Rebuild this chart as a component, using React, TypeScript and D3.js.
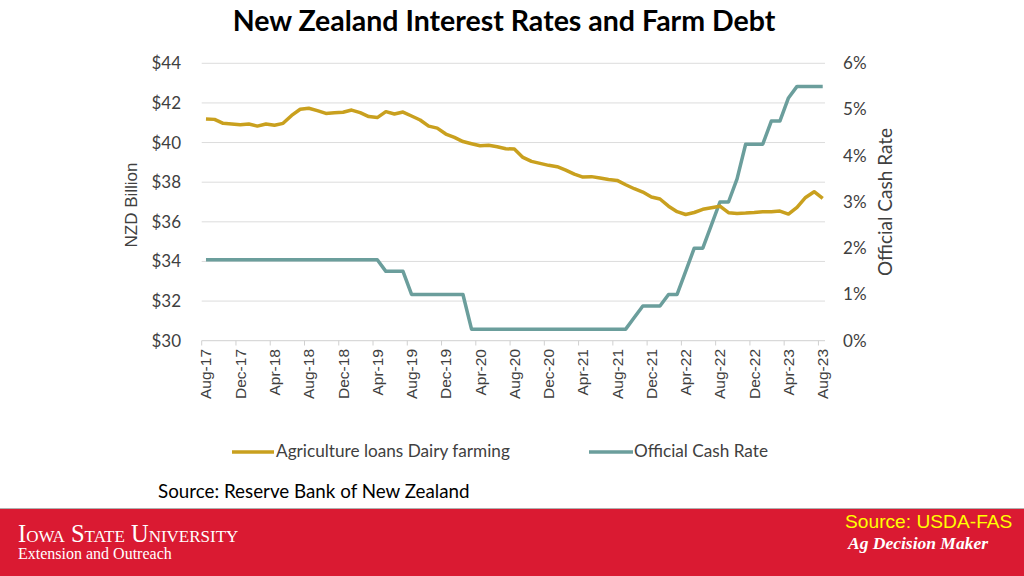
import React from "react";
import * as d3 from "d3";

const MONTHS = ["Jan","Feb","Mar","Apr","May","Jun","Jul","Aug","Sep","Oct","Nov","Dec"];
// Aug-17 .. Aug-23 monthly
const categories: string[] = [];
for (let i = 0; i < 73; i++) {
  const m = (7 + i) % 12;
  const y = 17 + Math.floor((7 + i) / 12);
  categories.push(`${MONTHS[m]}-${y}`);
}

const dairyLoans = [
  41.19, 41.17, 40.97, 40.94, 40.9, 40.94, 40.83, 40.94, 40.87, 40.97,
  41.37, 41.68, 41.73, 41.61, 41.47, 41.51, 41.53, 41.64, 41.51, 41.31,
  41.26, 41.56, 41.44, 41.54, 41.34, 41.14, 40.83, 40.73, 40.43, 40.26,
  40.05, 39.94, 39.84, 39.86, 39.79, 39.69, 39.67, 39.25, 39.05, 38.95,
  38.85, 38.78, 38.61, 38.41, 38.26, 38.28, 38.21, 38.14, 38.09, 37.87,
  37.67, 37.5, 37.25, 37.15, 36.79, 36.51, 36.37, 36.47, 36.63, 36.71,
  36.79, 36.46, 36.42, 36.44, 36.47, 36.51, 36.51, 36.54, 36.39, 36.73,
  37.23, 37.52, 37.18,
];

const cashRate = [
  1.75, 1.75, 1.75, 1.75, 1.75, 1.75, 1.75, 1.75, 1.75, 1.75,
  1.75, 1.75, 1.75, 1.75, 1.75, 1.75, 1.75, 1.75, 1.75, 1.75,
  1.75, 1.5, 1.5, 1.5, 1.0, 1.0, 1.0, 1.0, 1.0, 1.0,
  1.0, 0.25, 0.25, 0.25, 0.25, 0.25, 0.25, 0.25, 0.25, 0.25,
  0.25, 0.25, 0.25, 0.25, 0.25, 0.25, 0.25, 0.25, 0.25, 0.25,
  0.5, 0.75, 0.75, 0.75, 1.0, 1.0, 1.5, 2.0, 2.0, 2.5,
  3.0, 3.0, 3.5, 4.25, 4.25, 4.25, 4.75, 4.75, 5.25, 5.5,
  5.5, 5.5, 5.5,
];

const leftTicks = [30, 32, 34, 36, 38, 40, 42, 44];
const rightTicks = [0, 1, 2, 3, 4, 5, 6];

const GOLD = "#C9A01E";
const TEAL = "#6B9E9C";
const CAL = "Lato, 'Open Sans', sans-serif";
const ARIAL = "'Liberation Sans', Arial, sans-serif";
const SERIF = "'Liberation Serif', 'DejaVu Serif', serif";

export default function App() {
  const W = 1024, H = 576;
  const x = d3.scaleBand<string>().domain(categories).range([201.7, 827]).paddingInner(0).paddingOuter(0);
  const bw = x.bandwidth();
  const cx = (c: string) => (x(c) as number) + bw / 2;
  const yL = d3.scaleLinear().domain([30, 44]).range([340.7, 63.3]);
  const yR = d3.scaleLinear().domain([0, 6]).range([340.7, 63.3]);

  const lineL = d3.line<number>().x((_, i) => cx(categories[i])).y((d) => yL(d)).curve(d3.curveLinear);
  const lineR = d3.line<number>().x((_, i) => cx(categories[i])).y((d) => yR(d));

  const labelIdx = categories.map((_, i) => i).filter((i) => i % 4 === 0);

  return (
    <svg width={W} height={H} style={{ position: "absolute", left: 0, top: 0, display: "block" }}>
      <rect x={0} y={0} width={W} height={H} fill="#fff" />
      <text x={504} y={31} textAnchor="middle" fontFamily={CAL} fontWeight={700} fontSize={28.5} fill="#000">
        New Zealand Interest Rates and Farm Debt
      </text>

      {/* gridlines */}
      {leftTicks.map((t) => (
        <line key={t} x1={201.7} x2={825} y1={yL(t)} y2={yL(t)} stroke={t === 30 ? "#D0D0D0" : "#DCDCDC"} strokeWidth={1} />
      ))}
      {/* x ticks */}
      {d3.range(0, 73, 4).map((i) => (
        <line key={i} x1={x(categories[i]) as number} x2={x(categories[i]) as number} y1={340.7} y2={345.5} stroke="#D0D0D0" />
      ))}

      {/* left labels */}
      {leftTicks.map((t) => (
        <text key={t} x={181} y={yL(t)} dy="0.35em" textAnchor="end" fontFamily={CAL} fontSize={17} fill="#404040">
          ${t}
        </text>
      ))}
      {rightTicks.map((t) => (
        <text key={t} x={843} y={yR(t)} dy="0.35em" textAnchor="start" fontFamily={CAL} fontSize={17} fill="#404040">
          {t}%
        </text>
      ))}

      {/* x labels */}
      {labelIdx.map((i) => (
        <text key={i} transform={`translate(${cx(categories[i]) + 5.5},349) rotate(-90)`} textAnchor="end" fontFamily={ARIAL} fontSize={15.5} fill="#404040">
          {categories[i]}
        </text>
      ))}

      {/* axis titles */}
      <text transform="translate(137,205) rotate(-90)" textAnchor="middle" fontFamily={ARIAL} fontSize={17} fill="#404040">
        NZD Billion
      </text>
      <text transform="translate(892,202) rotate(-90)" textAnchor="middle" fontFamily={CAL} fontSize={19} fill="#404040">
        Official Cash Rate
      </text>

      {/* lines */}
      <path d={lineR(cashRate) || ""} fill="none" stroke={TEAL} strokeWidth={3.5} strokeLinejoin="round" />
      <path d={lineL(dairyLoans) || ""} fill="none" stroke={GOLD} strokeWidth={3.5} strokeLinejoin="round" />

      {/* legend */}
      <line x1={232} x2={274} y1={452} y2={452} stroke={GOLD} strokeWidth={3.5} />
      <text x={276} y={457} fontFamily={CAL} fontSize={17.2} fill="#404040">Agriculture loans Dairy farming</text>
      <line x1={589} x2={633} y1={452} y2={452} stroke={TEAL} strokeWidth={3.5} />
      <text x={634} y={457} fontFamily={CAL} fontSize={17.2} fill="#404040">Official Cash Rate</text>

      <text x={158} y={498} fontFamily={CAL} fontSize={18.8} fill="#000">Source: Reserve Bank of New Zealand</text>

      {/* banner */}
      <rect x={0} y={508} width={W} height={1.5} fill="#B0B0B0" />
      <rect x={0} y={509} width={W} height={67} fill="#DA1A32" />
      <text x={18} y={542} fontFamily={SERIF} fontSize={24.5} fill="#fff" style={{ fontVariant: "small-caps" }}>
        Iowa State University
      </text>
      <text x={18} y={559} fontFamily={SERIF} fontSize={16} fill="#fff">Extension and Outreach</text>
      <text x={845} y={528} fontFamily={ARIAL} fontSize={19.2} fill="#FFFF00">Source: USDA-FAS</text>
      <text x={848} y={549} fontFamily={SERIF} fontStyle="italic" fontWeight={700} fontSize={17.5} fill="#fff">Ag Decision Maker</text>
    </svg>
  );
}
